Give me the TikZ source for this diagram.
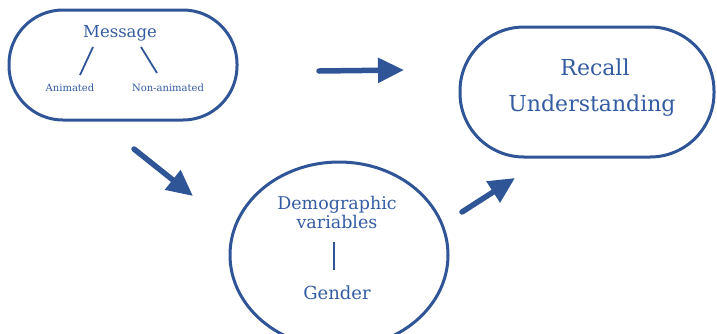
\documentclass[tikz,border=0pt]{standalone}
\usepackage{fontspec}
\setmainfont{DejaVu Serif}
\usetikzlibrary{arrows.meta,shapes.geometric}
\definecolor{navy}{RGB}{47,85,151}
\definecolor{ink}{RGB}{52,92,162}
\begin{document}
\begin{tikzpicture}[x=1pt,y=-1pt,
  outline/.style={draw=navy, line width=3pt, inner sep=0pt},
  link/.style={draw=navy, line width=1.8pt},
  flow/.style={draw=navy, line width=5.5pt, line cap=round,
    -{Triangle[length=26pt,width=24pt]}},
  lbl/.style={text=ink, inner sep=0pt, align=center}]
\useasboundingbox (0,0) rectangle (717,333);
% containers
\node[outline, rounded corners=54pt, minimum width=228pt, minimum height=110pt] (msg) at (123,65) {};
\node[outline, rounded corners=64pt, minimum width=254pt, minimum height=130pt] (res) at (587,92) {};
\node[outline, ellipse, minimum width=218pt, minimum height=186pt] (demo) at (339,255) {};
% message contents
\node[lbl, font=\fontsize{16.5}{19}\selectfont] (mtitle) at (120,33) {Message};
\node[lbl, font=\fontsize{10}{12}\selectfont] (anim) at (70,88) {Animated};
\node[lbl, font=\fontsize{10}{12}\selectfont] (nonanim) at (168,88) {Non-animated};
\coordinate (ma1) at (93,47);
\coordinate (ma2) at (80,75);
\coordinate (mb1) at (141,47);
\coordinate (mb2) at (157,73);
\draw[link] (ma1) -- (ma2);
\draw[link] (mb1) -- (mb2);
% outcome contents
\node[lbl, font=\fontsize{22}{26}\selectfont] (recall) at (595,67) {Recall};
\node[lbl, font=\fontsize{22}{26}\selectfont] (underst) at (592,106) {Understanding};
% demographic contents
\node[lbl, font=\fontsize{17.5}{21}\selectfont] (dtitle) at (337,212) {Demographic\\[-2pt]variables};
\node[lbl, font=\fontsize{18}{21}\selectfont] (gender) at (337,293) {Gender};
\coordinate (dg1) at (334,242);
\coordinate (dg2) at (334,270);
\draw[link] (dg1) -- (dg2);
% flow arrows
\coordinate (a1s) at (319,71);
\coordinate (a1e) at (404,70);
\coordinate (a2s) at (134,149);
\coordinate (a2e) at (193,196);
\coordinate (a3s) at (462,212);
\coordinate (a3e) at (515,178);
\draw[flow] (a1s) -- (a1e);
\draw[flow] (a2s) -- (a2e);
\draw[flow] (a3s) -- (a3e);
\end{tikzpicture}
\end{document}
